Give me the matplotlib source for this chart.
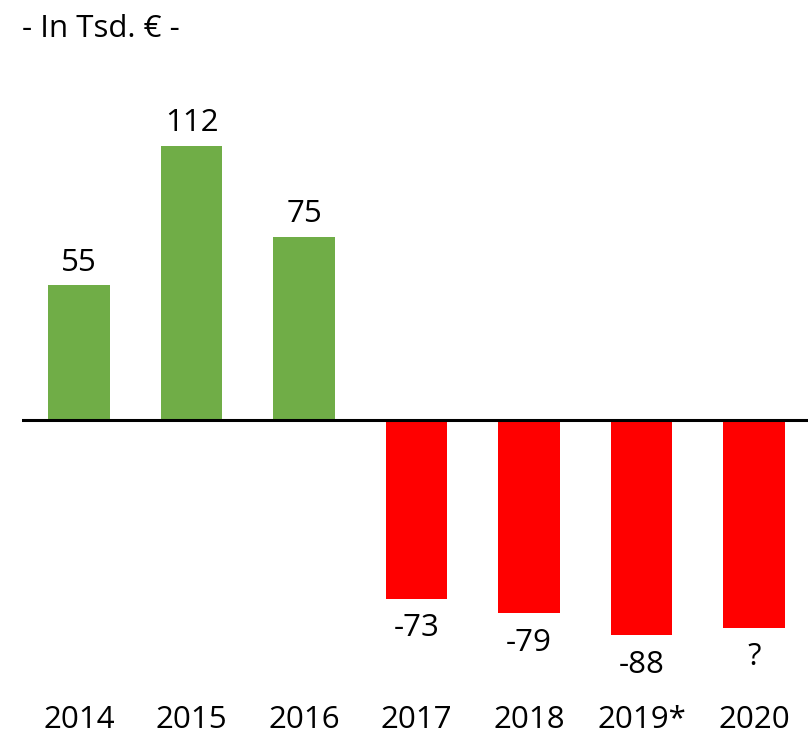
import matplotlib.pyplot as plt

years = ["2014", "2015", "2016", "2017", "2018", "2019*", "2020"]
values = [55, 112, 75, -73, -79, -88, -85]
labels = ["55", "112", "75", "-73", "-79", "-88", "?"]

plt.rcParams['font.family'] = ['Open Sans', 'DejaVu Sans']

fig = plt.figure(figsize=(8.08, 7.42), dpi=100)
# axes placed in pixel terms: left 22px, top 60px, bottom 680px
ax = fig.add_axes([22 / 808, 62 / 742, 1 - 22 / 808, (680 - 60) / 742])

colors = ["#70AD47" if v >= 0 else "#FF0000" for v in values]
x = range(len(years))
ax.bar(x, values, width=0.55, color=colors, zorder=2)
ax.axhline(0, color="black", linewidth=2.2, zorder=3)

for xi, v, lab in zip(x, values, labels):
    if v >= 0:
        ax.annotate(lab, (xi, v), xytext=(0, 5.5), textcoords="offset points",
                    ha="center", va="bottom", fontsize=22.5)
    else:
        ax.annotate(lab, (xi, v), xytext=(0, -10.5), textcoords="offset points",
                    ha="center", va="top", fontsize=22.5)

ax.set_xlim(-0.507, 6.48)
ax.set_ylim(-106.3, 147.2)
ax.set_xticks(list(x))
ax.set_xticklabels(years, fontsize=22.5)
ax.set_yticks([])
ax.tick_params(axis="x", length=0, pad=18)
for s in ax.spines.values():
    s.set_visible(False)

fig.text(22 / 808, 1 - 29 / 742, "- In Tsd. € -", fontsize=22.5, ha="left", va="center")

fig.savefig("out.png", dpi=100)
